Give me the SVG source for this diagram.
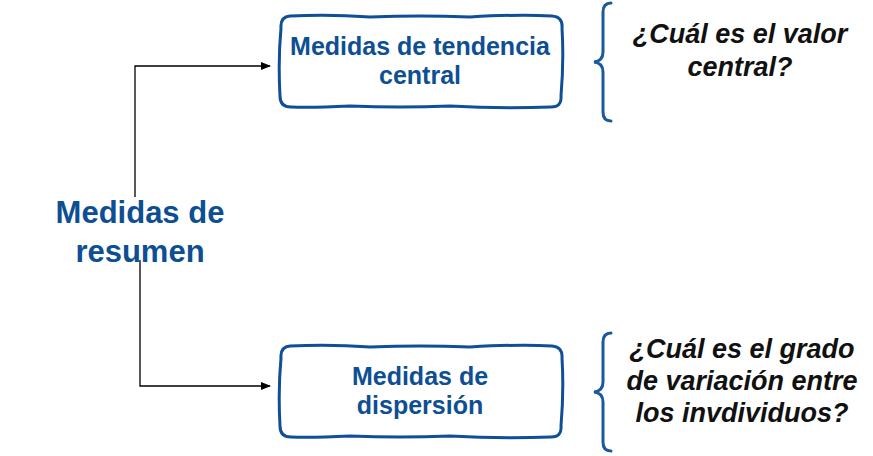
<svg xmlns="http://www.w3.org/2000/svg" width="873" height="456" viewBox="0 0 873 456">
<defs>
<style>
.box{fill:#fff;stroke:#0f4f97;stroke-width:3;stroke-linejoin:round}
.bt{font-family:"Liberation Sans",Arial,sans-serif;font-weight:bold;fill:#0e4f94;text-anchor:middle}
.q{font-family:"Liberation Sans",Arial,sans-serif;font-weight:bold;font-style:italic;fill:#111;text-anchor:middle;font-size:27px}
.brace{fill:none;stroke:#1a5a9c;stroke-width:3;stroke-linecap:round}
.conn{fill:none;stroke:#000;stroke-width:1.3}
</style>
<marker id="ah" markerWidth="10" markerHeight="8" refX="9" refY="4" orient="auto" markerUnits="userSpaceOnUse">
<path d="M0,0 L10,4 L0,8 Z" fill="#000"/>
</marker>
</defs>
<rect width="873" height="456" fill="#fff"/>
<g id="connectors">
<path class="conn" d="M135,197 V66 H270" marker-end="url(#ah)"/>
<path class="conn" d="M140,260 V386 H270" marker-end="url(#ah)"/>
</g>
<g id="root">
<text class="bt" font-size="31" x="140" y="223">Medidas de</text>
<text class="bt" font-size="31" x="140" y="262">resumen</text>
</g>
<g id="n1">
<path class="box" d="M290,16 Q330,14 370,17 Q420,15 470,17 Q520,14 552,16 Q563,17 562,28 Q564,60 561,96 Q562,107 551,107 Q500,109 450,106 Q400,108 350,106 Q310,108 291,107 Q280,107 280,96 Q278,60 281,28 Q280,17 290,16 Z"/>
<text class="bt" font-size="25" x="420" y="55">Medidas de tendencia</text>
<text class="bt" font-size="25" x="420" y="84">central</text>
</g>
<g id="n2">
<path class="box" d="M290,346 Q330,344 370,347 Q420,345 470,347 Q520,344 552,346 Q563,347 562,358 Q564,390 561,426 Q562,437 551,437 Q500,439 450,436 Q400,438 350,436 Q310,438 291,437 Q280,437 280,426 Q278,390 281,358 Q280,347 290,346 Z"/>
<text class="bt" font-size="25" x="420" y="385">Medidas de</text>
<text class="bt" font-size="25" x="420" y="414">dispersión</text>
</g>
<g id="q1">
<path class="brace" d="M611,3 Q603,3 603,12 V52 Q603,61 594,62 Q603,63 603,72 V112 Q603,121 611,121"/>
<text class="q" x="740" y="43">¿Cuál es el valor</text>
<text class="q" x="740" y="76">central?</text>
</g>
<g id="q2">
<path class="brace" d="M611,333 Q603,333 603,342 V382 Q603,391 594,392 Q603,393 603,402 V442 Q603,451 611,451"/>
<text class="q" x="742" y="358">¿Cuál es el grado</text>
<text class="q" x="742" y="390">de variación entre</text>
<text class="q" x="742" y="422">los invdividuos?</text>
</g>
</svg>
